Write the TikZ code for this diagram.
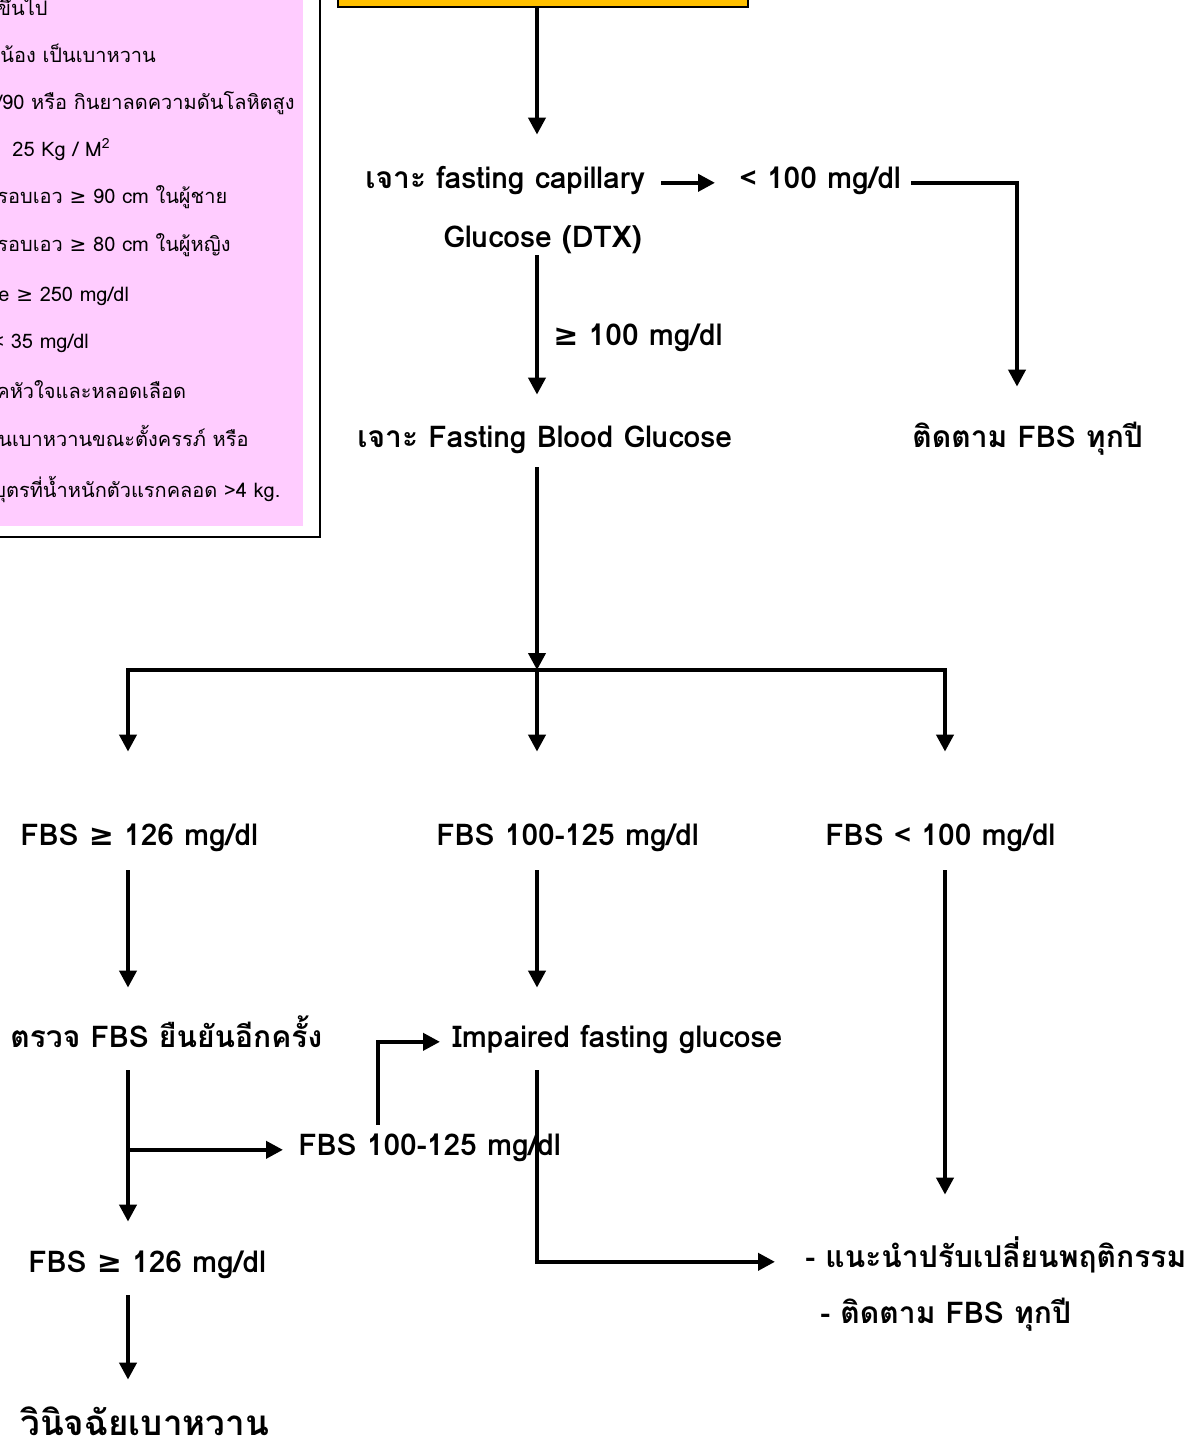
\documentclass[tikz,border=0pt]{standalone}
\usepackage{fontspec}
\setmainfont[Script=Thai]{Loma}
\newfontfamily\symfont{DejaVu Sans}
\usetikzlibrary{arrows.meta,positioning}

\definecolor{riskpink}{RGB}{255,204,255}
\definecolor{goalorange}{RGB}{255,192,0}
\newcommand{\gesym}{{\symfont ≥}}

\tikzset{
  steptext/.style={font=\fontsize{15}{18}\selectfont\bfseries, inner sep=0pt,
    text height=11pt, text depth=4pt, anchor=base west},
  risktext/.style={font=\fontsize{10}{12}\selectfont, inner sep=0pt, anchor=base west},
  bigtext/.style={font=\fontsize{17.5}{21}\selectfont\bfseries, inner sep=0pt,
    text height=13pt, text depth=5pt, anchor=base west},
  arr/.style={->, line width=2pt},
}

\begin{document}
\begin{tikzpicture}[x=0.5pt, y=-0.5pt,
  >={Triangle[length=8.5pt,width=8.5pt]}]
  \useasboundingbox (0,0) rectangle (1186,1450);

  % risk factor box (cut at the page edge)
  \draw[line width=1pt] (-20,-20) rectangle (320,537);
  \fill[riskpink] (-20,-20) rectangle (303,526);
  \node[risktext] (r1)  at (-3,16)   {ขึ้นไป};
  \node[risktext] (r2)  at (0,63)    {น้อง เป็นเบาหวาน};
  \node[risktext] (r3)  at (-4,110)  {/90 หรือ กินยาลดความดันโลหิตสูง};
  \node[risktext] (r4)  at (12,156)  {25 Kg / M\textsuperscript{2}};
  \node[risktext] (r5)  at (-3,203)  {รอบเอว \gesym{}  90 cm ในผู้ชาย};
  \node[risktext] (r6)  at (-3,251)  {รอบเอว \gesym{} 80 cm ในผู้หญิง};
  \node[risktext] (r7)  at (-2,301)  {e \gesym{} 250 mg/dl};
  \node[risktext] (r8)  at (-8,348)  {< 35 mg/dl};
  \node[risktext] (r9)  at (-4,398)  {คหัวใจและหลอดเลือด};
  \node[risktext] (r10) at (-2,446)  {นเบาหวานขณะตั้งครรภ์ หรือ};
  \node[risktext] (r11) at (-7,497) {บุตรที่น้ำหนักตัวแรกคลอด >4 kg.};

  % top box (cut at the page edge)
  \node[draw, line width=1pt, fill=goalorange, minimum width=205pt,
    minimum height=17pt, inner sep=0pt] (goal) at (543,-10) {};

  \coordinate (L) at (128,0);
  \coordinate (M) at (537,0);
  \coordinate (R) at (945,0);
  \coordinate (P) at (378,0);
  \coordinate (jm) at (537,670);

  \node[steptext] (cap)    at (365,188)  {เจาะ fasting capillary};
  \node[steptext] (lt100)  at (739,188)  {< 100 mg/dl};
  \node[steptext] (dtx)    at (443,247)  {Glucose (DTX)};
  \node[steptext] (ge100)  at (553,345)  {\gesym{}  100  mg/dl};
  \node[steptext] (fbg)    at (357,447)  {เจาะ  Fasting Blood Glucose};
  \node[steptext] (follow) at (912,447)  {ติดตาม FBS ทุกปี};

  \node[steptext] (fbs126) at (20,845)   {FBS \gesym{} 126  mg/dl};
  \node[steptext] (fbsmid) at (436,845)  {FBS 100-125 mg/dl};
  \node[steptext] (fbslt)  at (825,845)  {FBS < 100 mg/dl};

  \node[steptext] (confirm) at (10,1047) {ตรวจ  FBS  ยืนยันอีกครั้ง};
  \node[steptext] (ifg)     at (452,1047) {Impaired fasting glucose};
  \node[steptext] (recheckmid) at (298,1155) {FBS 100-125  mg/dl};
  \node[steptext] (adv)     at (805,1267) {-  แนะนำปรับเปลี่ยนพฤติกรรม};
  \node[steptext] (adv2)    at (820,1323) {-  ติดตาม FBS ทุกปี};
  \node[steptext] (recheck126) at (28,1272) {FBS \gesym{} 126 mg/dl};
  \node[bigtext]  (diag)    at (20,1435) {วินิจฉัยเบาหวาน};

  % connectors
  \draw[arr, shorten >=15.5pt] (goal.south -| M) -- (cap.north -| M);
  \draw[arr, shorten <=8pt, shorten >=12pt] (cap.mid east) -- (lt100.mid west);
  \draw[arr, shorten <=5pt, shorten >=19pt] (lt100.mid east) -| (follow.north -| 1017,0);
  \draw[arr, shorten <=0pt, shorten >=15pt] (dtx.south -| M) -- (fbg.north -| M);
  \draw[arr, shorten <=6pt] (fbg.south -| M) -- (jm);
  \draw[arr, shorten >=35.5pt] (jm) -| (fbs126.north -| L);
  \draw[arr, shorten >=35.5pt] (jm) -| (fbslt.north -| R);
  \draw[arr, shorten >=35.5pt] (jm) -- (fbsmid.north -| M);
  \draw[arr, shorten <=8.5pt, shorten >=18.5pt] (fbs126.south -| L) -- (confirm.north -| L);
  \draw[arr, shorten <=8.5pt, shorten >=18.5pt] (fbsmid.south -| M) -- (ifg.north -| M);
  \draw[arr, shorten <=8.5pt, shorten >=25pt] (fbslt.south -| R) -- (adv.north -| R);
  \draw[arr, shorten <=7.5pt, shorten >=14pt] (confirm.south -| L) -- (recheck126.north -| L);
  \draw[arr, shorten >=7.5pt] (L |- recheckmid.mid) -- (recheckmid.mid west);
  \draw[arr, shorten <=4pt, shorten >=6pt] (recheckmid.north -| P) |- (ifg.mid west);
  \draw[arr, shorten <=7.5pt, shorten >=15pt] (ifg.south -| M) |- (adv.mid west);
  \draw[arr, shorten <=7.5pt, shorten >=14.5pt] (recheck126.south -| L) -- (diag.north -| L);
\end{tikzpicture}
\end{document}
